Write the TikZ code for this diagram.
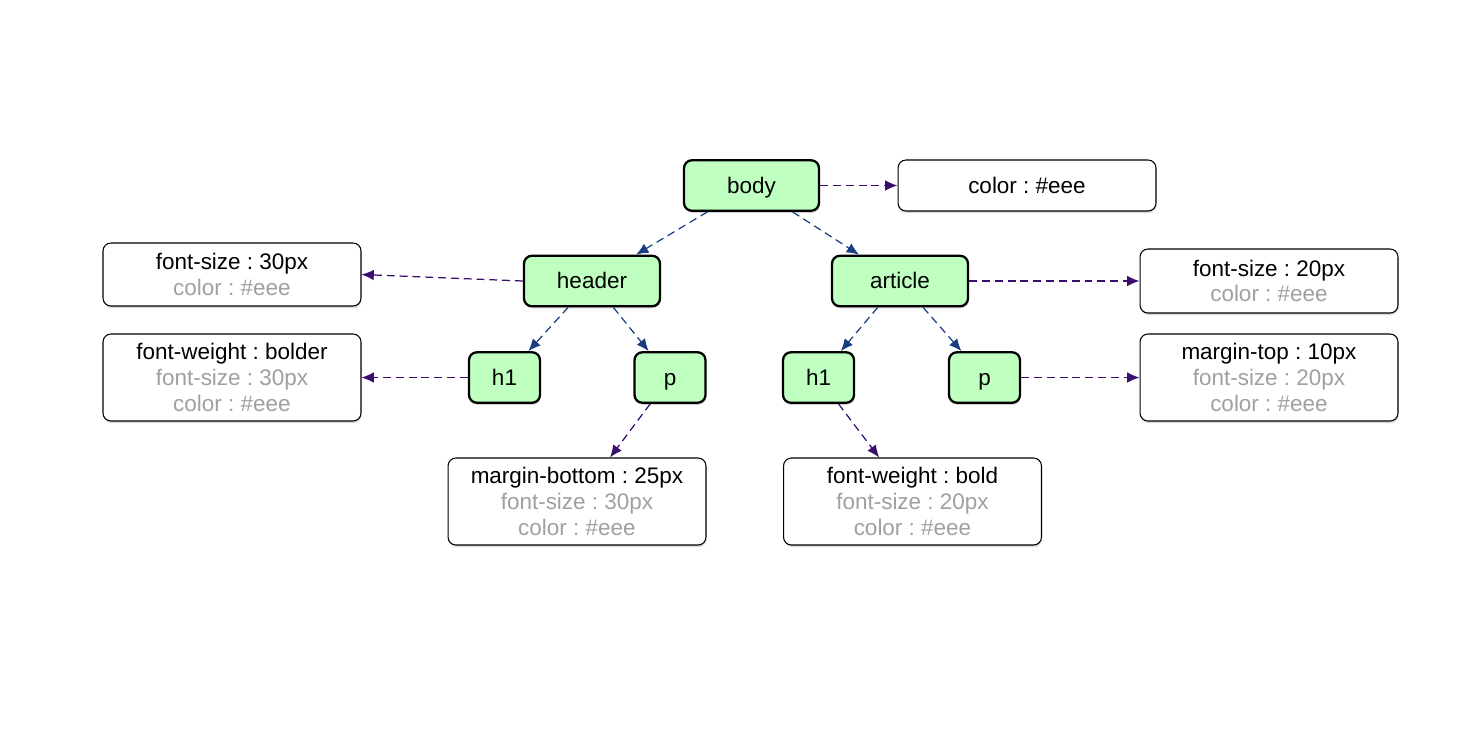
\documentclass[tikz,border=0pt]{standalone}
\usepackage{fontspec}
\setmainfont{Liberation Sans}
\usepackage{tikz}
\usetikzlibrary{arrows.meta,shadows}
\frenchspacing

\definecolor{tagfill}{RGB}{191,255,191}
\definecolor{inherit}{RGB}{160,160,160}
\definecolor{treeline}{RGB}{24,62,128}
\definecolor{ruleline}{RGB}{58,14,110}

\tikzset{
    tag/.style={draw=black, line width=1.3pt, fill=tagfill, rounded corners=4.5pt,
        inner sep=0pt, minimum height=1.01cm, text height=1.8ex, text depth=0.1ex,
        drop shadow={shadow xshift=0.4pt, shadow yshift=-1.2pt, opacity=0.35}},
    rulebox/.style={draw=black, line width=0.6pt, fill=white, rounded corners=4.5pt,
        inner sep=0pt, minimum width=5.16cm, align=center,
        font=\fontsize{12.8}{14.6}\selectfont,
        drop shadow={shadow xshift=0.4pt, shadow yshift=-1.2pt, opacity=0.3}},
    tree/.style={draw=treeline, line width=0.7pt, dash pattern=on 4.5pt off 2.8pt,
        -{Latex[length=7pt,width=6pt]}},
    cascade/.style={draw=ruleline, line width=0.7pt, dash pattern=on 4.5pt off 2.8pt,
        -{Latex[length=7pt,width=6pt]}},
}
\newcommand{\inh}[1]{\textcolor{inherit}{#1}}

\begin{document}
\begin{tikzpicture}[x=0.02cm,y=-0.02cm,font=\fontsize{12.8}{14.6}\selectfont]
    \useasboundingbox (0,0) rectangle (1484,748);

    % element tree
    \node[tag, minimum width=2.7cm] (body) at (751.5,185.5) {body};
    \node[tag, minimum width=2.72cm] (header) at (592,281) {header};
    \node[tag, minimum width=2.72cm] (article) at (900,281) {article};
    \node[tag, minimum width=1.42cm] (h1a) at (504.5,377.5) {h1};
    \node[tag, minimum width=1.42cm] (pa) at (670,377.5) {p};
    \node[tag, minimum width=1.42cm] (h1b) at (818.5,377.5) {h1};
    \node[tag, minimum width=1.42cm] (pb) at (984.5,377.5) {p};

    % computed styles
    \node[rulebox, minimum height=1.02cm] (sbody) at (1027,185.5) {color : \#eee};
    \node[rulebox, minimum height=1.26cm] (sheader) at (232,274.5)
        {font-size : 30px\\ \inh{color : \#eee}};
    \node[rulebox, minimum height=1.74cm] (sh1a) at (232,377.5)
        {font-weight : bolder\\ \inh{font-size : 30px}\\ \inh{color : \#eee}};
    \node[rulebox, minimum height=1.74cm] (spa) at (577,501.5)
        {margin-bottom : 25px\\ \inh{font-size : 30px}\\ \inh{color : \#eee}};
    \node[rulebox, minimum height=1.74cm] (sh1b) at (912.5,501.5)
        {font-weight : bold\\ \inh{font-size : 20px}\\ \inh{color : \#eee}};
    \node[rulebox, minimum height=1.28cm] (sarticle) at (1269,281)
        {font-size : 20px\\ \inh{color : \#eee}};
    \node[rulebox, minimum height=1.74cm] (spb) at (1269,377.5)
        {margin-top : 10px\\ \inh{font-size : 20px}\\ \inh{color : \#eee}};

    % parent -> child
    \draw[tree] (body) -- (header);
    \draw[tree] (body) -- (article);
    \draw[tree] (header) -- (h1a);
    \draw[tree] (header) -- (pa);
    \draw[tree] (article) -- (h1b);
    \draw[tree] (article) -- (pb);

    % element -> style
    \draw[cascade] (body) -- (sbody);
    \draw[cascade] (header.west) -- (sheader.east);
    \draw[cascade] (h1a) -- (sh1a);
    \draw[cascade] (pa) -- (spa);
    \draw[cascade] (h1b) -- (sh1b);
    \draw[cascade] (article) -- (sarticle);
    \draw[cascade] (pb) -- (spb);
\end{tikzpicture}
\end{document}
